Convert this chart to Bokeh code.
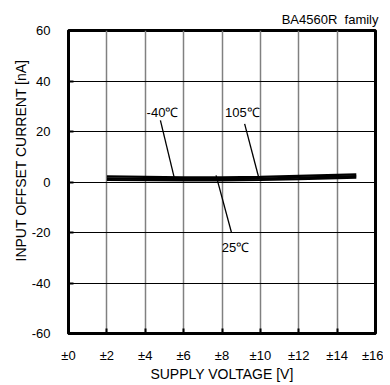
from bokeh.plotting import figure
from bokeh.models import Label, FixedTicker, Title
from bokeh.embed import file_html
from bokeh.resources import INLINE

# ---- data ----
voltage = [2, 4, 6, 8, 10, 12, 14, 15]
i_m40 = [2.2, 2.0, 1.8, 1.8, 2.0, 2.4, 2.8, 3.0]
i_25 = [1.4, 1.2, 1.1, 1.1, 1.3, 1.7, 2.1, 2.3]
i_105 = [0.8, 0.7, 0.6, 0.6, 0.8, 1.1, 1.5, 1.7]

x_ticks = [0, 2, 4, 6, 8, 10, 12, 14, 16]
x_tick_labels = ["±0", "±2", "±4", "±6", "±8", "±10", "±12", "±14", "±16"]
y_ticks = [-60, -40, -20, 0, 20, 40, 60]
y_tick_labels = ["-60", "-40", "-20", "0", "20", "40", "60"]

ann_text = ["-40℃", "105℃", "25℃"]
ann_x = [4.9, 9.06, 8.7]
ann_y = [27.5, 27.5, -25.9]
lead_x0 = [4.79, 9.18, 7.69]
lead_y0 = [24.4, 23.0, 2.6]
lead_x1 = [5.52, 9.93, 8.49]
lead_y1 = [1.4, 1.3, -19.9]

FONT = "Liberation Sans"

p = figure(output_backend="svg", toolbar_location=None,
           frame_width=307, frame_height=303,
           x_range=(0, 16), y_range=(-60, 60),
           min_border_left=68, min_border_top=30, min_border_right=8, min_border_bottom=40,
           background_fill_color="white", border_fill_color="white")

p.outline_line_color = "black"
p.outline_line_width = 3

# title at top right
p.title.text = "BA4560R\u00a0\u00a0family"
p.title.align = "right"
p.title.text_font = FONT
p.title.text_font_size = "13px"
p.title.text_font_style = "normal"
p.title.text_color = "black"
p.title.standoff = 7
p.title.offset = -3

# grids
p.xgrid.ticker = FixedTicker(ticks=x_ticks)
p.ygrid.ticker = FixedTicker(ticks=y_ticks)
p.xgrid.grid_line_color = "#808080"
p.xgrid.grid_line_width = 1.5
p.ygrid.grid_line_color = "black"
p.ygrid.grid_line_width = 1

# axes
for ax in (p.xaxis[0], p.yaxis[0]):
    ax.axis_line_width = 3
    ax.axis_line_color = "black"
    ax.major_tick_in = 5
    ax.major_tick_out = 0
    ax.major_tick_line_width = 2
    ax.minor_tick_line_color = None
    ax.major_label_text_font = FONT
    ax.major_label_text_font_size = "13px"
    ax.major_label_text_color = "black"
    ax.axis_label_text_font = FONT
    ax.axis_label_text_font_size = "14px"
    ax.axis_label_text_font_style = "normal"
    ax.axis_label_text_color = "black"

p.xaxis.ticker = FixedTicker(ticks=x_ticks)
p.xaxis.major_label_overrides = {t: s for t, s in zip(x_ticks, x_tick_labels)}
p.xaxis.major_label_standoff = 14
p.xaxis.axis_label = "SUPPLY VOLTAGE [V]"
p.xaxis.axis_label_standoff = 0

p.yaxis.ticker = FixedTicker(ticks=y_ticks)
p.yaxis.major_label_overrides = {t: s for t, s in zip(y_ticks, y_tick_labels)}
p.yaxis.major_label_standoff = 18

# y axis label as a side title, shifted upward like the reference
ylab = Title(text="INPUT OFFSET CURRENT [nA]", align="left", offset=72,
             text_font=FONT, text_font_size="14px", text_font_style="normal",
             text_color="black", standoff=0)
p.add_layout(ylab, "left")

# curves
for ys in (i_m40, i_25, i_105):
    p.line(voltage, ys, line_color="black", line_width=2.2)

# leader lines
p.segment(x0=lead_x0, y0=lead_y0, x1=lead_x1, y1=lead_y1,
          line_color="black", line_width=1.3)

for t, x, y in zip(ann_text, ann_x, ann_y):
    p.add_layout(Label(x=x, y=y, text=t, text_font=FONT, text_font_size="13px",
                       text_align="center", text_baseline="middle", text_color="black"))

open("out.html", "w").write(file_html(p, INLINE))
